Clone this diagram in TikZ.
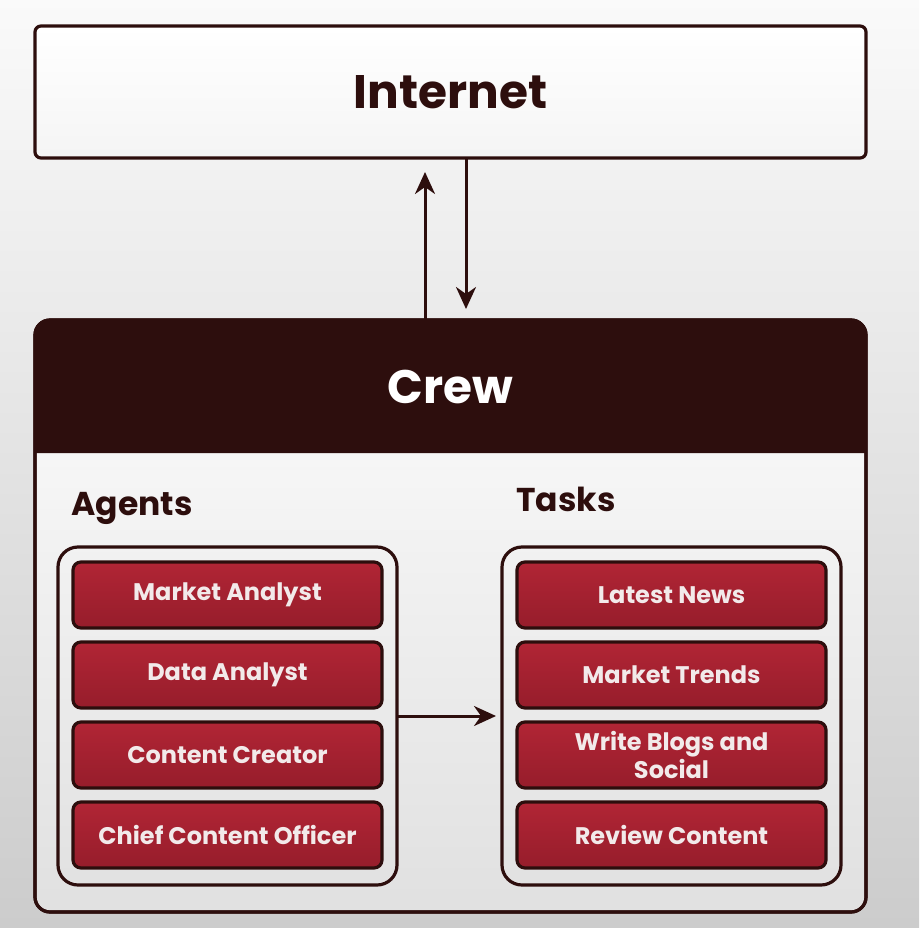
\documentclass[tikz,border=0pt]{standalone}
\usepackage{fontspec}
\setmainfont{Poppins}
\usetikzlibrary{
  arrows.meta,
  positioning
}
\definecolor{crewDark}{HTML}{2D0E0D}
\definecolor{itemTop}{HTML}{B12535}
\definecolor{itemBottom}{HTML}{961D2B}
\definecolor{itemText}{HTML}{F2EAEA}
\tikzset{
  % Shared values that are assigned to different keys in the styles below.
  globals/border width/.initial=3.2pt,
  globals/item width/.initial=309pt,
  globals/item height/.initial=66pt,
%
  % For the outer boxes.
  panel/.style={
    draw=crewDark,
    line width=\pgfkeysvalueof{/tikz/globals/border width},
    inner sep=0pt,
    outer sep=0pt},
%
  % For the agent and task lists.
  holder/.style={
    panel,
    rounded corners=20pt,
    minimum width=339pt,
    minimum height=338pt},
%
  % For single agents and tasks.
  item/.style={
    draw=crewDark,
    line width=\pgfkeysvalueof{/tikz/globals/border width},
    top color=itemTop,
    bottom color=itemBottom,
    rounded corners=8pt,
    minimum width=\pgfkeysvalueof{/tikz/globals/item width},
    minimum height=\pgfkeysvalueof{/tikz/globals/item height},
    inner sep=0pt,
    outer sep=0pt,
    align=center,
    text=itemText,
    font={\fontsize{24pt}{28pt}\selectfont\bfseries}},
%
  % For the big titles.
  title/.style={
    font={\fontsize{47pt}{0pt}\selectfont\bfseries}},
%
  % For the list headings.
  heading/.style={
    text=crewDark,
    font={\fontsize{33pt}{0pt}\selectfont\bfseries}},
%
  % For arrows with one head.
  link/.style={
    draw=crewDark,
    line width=3pt,
    -{Stealth[length=22pt,width=20pt,inset=7pt]}}
}
\begin{document}
\begin{tikzpicture}[x=1pt,y=-1pt,node distance=14pt]
  \useasboundingbox (0,0) rectangle (919,928);
  \shade[top color=gray!4,bottom color=gray!40] (0,0) rectangle (919,928);

  \node[panel,
        rounded corners=6pt,
        top color=white,
        bottom color=gray!8,
        minimum width=831pt,
        minimum height=132pt] (internet) at (450.5,92) {};
  \node[title,text=crewDark] at (internet.center) {Internet};

  \node[panel,
        rounded corners=15pt,
        top color=gray!2,
        bottom color=gray!24,
        minimum width=831pt,
        minimum height=592pt] (crew) at (450.5,616) {};

  % Dark head band with round upper corners only.
  \fill[crewDark]
    ([yshift=-133pt]crew.north west) [rounded corners=15pt]
    -- (crew.north west) -- (crew.north east) [sharp corners]
    -- ([yshift=-133pt]crew.north east) -- cycle;
  \draw[crewDark,line width=3.2pt,rounded corners=15pt]
    (crew.north west) rectangle (crew.south east);
  \node[title,text=white] (crewTitle) at (450.5,387) {Crew};

  \node[heading] (agentsLabel) at (132,508) {Agents};
  \node[heading] (tasksLabel) at (566,499) {Tasks};

  \node[holder] (agentsBox) at (227.5,716) {};
  \node[holder] (tasksBox) at (671.5,716) {};

  \node[item] (market) at (227.5,595) {Market Analyst};
  \node[item,below=of market] (data) {Data Analyst};
  \node[item,below=of data] (content) {Content Creator};
  \node[item,below=of content] (chief) {Chief Content Officer};

  \node[item] (news) at (671.5,595) {Latest News};
  \node[item,below=of news] (trends) {Market Trends};
  \node[item,below=of trends] (blogs) {Write Blogs and\\Social};
  \node[item,below=of blogs] (review) {Review Content};

  \draw[link,shorten >=14pt]
    ([xshift=-25.5pt]crew.north) -- ([xshift=-25.5pt]internet.south);
  \draw[link,shorten >=11pt]
    ([xshift=15.5pt]internet.south) -- ([xshift=15.5pt]crew.north);
  \draw[link,shorten >=6pt] (agentsBox.east) -- (tasksBox.west);
\end{tikzpicture}
\end{document}
